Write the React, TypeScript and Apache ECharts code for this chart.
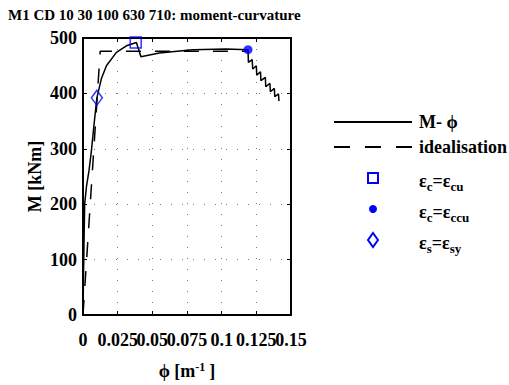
import React, { useEffect, useRef } from "react";
import * as echarts from "echarts";

const titleText = "M1 CD 10 30 100 630 710: moment-curvature";
const xTicks = [0, 0.025, 0.05, 0.075, 0.1, 0.125, 0.15];
const yTicks = [0, 100, 200, 300, 400, 500];

// M-phi curve
const curvePhi = [
  0, 0.0006, 0.0012, 0.0025, 0.0043, 0.006, 0.0078, 0.01, 0.0133, 0.0169, 0.0241, 0.0313,
  0.0385, 0.0418, 0.055, 0.079, 0.103, 0.119,
  0.1193, 0.122, 0.1224, 0.125, 0.1253, 0.128, 0.1283, 0.1315, 0.1318, 0.1348, 0.1351, 0.138,
  0.1383, 0.141, 0.1413,
];
const curveM = [
  0, 110, 200, 232, 260, 295, 340, 392, 427, 450, 474, 486,
  492, 466, 473, 479, 480, 479,
  456, 461, 444, 450, 433, 439, 423, 429, 412, 418, 403, 409,
  394, 399, 386,
];

// bilinear idealisation
const idealPhi = [0, 0.0124, 0.119];
const idealM = [0, 476, 476];

// markers
const ecuPoint = [0.038, 492];
const eccuPoint = [0.119, 479];
const esyPoint = [0.01, 392];

const FONT = "'Liberation Serif', 'Times New Roman', serif";
const BLUE = "#0000ff";

export default function App() {
  const ref = useRef<HTMLDivElement>(null);
  useEffect(() => {
    const chart = echarts.init(ref.current!, null, { renderer: "svg" });
    const curve = curvePhi.map((p, i) => [p, curveM[i]]);
    const ideal = idealPhi.map((p, i) => [p, idealM[i]]);
    const xMax = xTicks[xTicks.length - 1];
    const xStep = xTicks[1] - xTicks[0];
    const yMax = yTicks[yTicks.length - 1];
    const yStep = yTicks[1] - yTicks[0];
    const gridLine = { show: true, lineStyle: { color: "#777", width: 1, type: [1, 10] as any } };
    const axisLine = { show: true, onZero: false, lineStyle: { color: "#000", width: 2 } };
    const tick = { show: true, inside: true, length: 4, lineStyle: { color: "#000", width: 1 } };
    const labelStyle = { fontFamily: FONT, fontSize: 18, fontWeight: "bold" as const, color: "#000" };
    const legendX = 334;
    const textX = 419;
    const legendRich = {
      sub: { fontFamily: FONT, fontSize: 13, fontWeight: "bold" as const, verticalAlign: "bottom" as const, padding: [10, 0, 0, 0], fill: "#000" },
    };
    const isMax = (v: number) => Math.abs(v - xMax) < 1e-9;
    chart.setOption({
      animation: false,
      title: {
        text: titleText,
        left: 8,
        top: 7,
        padding: 0,
        textStyle: { fontFamily: FONT, fontSize: 15, fontWeight: "bold", color: "#000" },
      },
      grid: { left: 83, top: 38, width: 208, height: 285 },
      xAxis: [
        {
          type: "value",
          min: 0,
          max: xMax,
          interval: xStep,
          axisLine,
          axisTick: tick,
          splitLine: gridLine,
          axisLabel: { ...labelStyle, margin: 16, showMinLabel: true, showMaxLabel: false },
          name: "ϕ [m{sup|-1}]",
          nameLocation: "middle",
          nameGap: 46,
          nameTextStyle: {
            fontFamily: FONT,
            fontSize: 18,
            fontWeight: "bold",
            color: "#000",
            rich: { sup: { fontFamily: FONT, fontSize: 12, fontWeight: "bold", verticalAlign: "top", padding: [0, 4, 8, 0] } },
          },
        },
        {
          type: "value",
          position: "top",
          min: 0,
          max: xMax,
          interval: xStep,
          axisLine,
          axisTick: tick,
          splitLine: { show: false },
          axisLabel: { show: false },
        },
        {
          type: "value",
          position: "bottom",
          min: 0,
          max: xMax,
          interval: xStep,
          axisLine: { show: false },
          axisTick: { show: false },
          splitLine: { show: false },
          axisLabel: {
            ...labelStyle,
            margin: 16,
            showMaxLabel: true,
            formatter: (v: number) => (isMax(v) ? String(xMax) : ""),
          },
        },
      ],
      yAxis: [
        {
          type: "value",
          min: 0,
          max: yMax,
          interval: yStep,
          axisLine,
          axisTick: tick,
          splitLine: gridLine,
          axisLabel: { ...labelStyle, margin: 6 },
          name: "M [kNm]",
          nameLocation: "middle",
          nameGap: 39,
          nameTextStyle: { fontFamily: FONT, fontSize: 18, fontWeight: "bold", color: "#000" },
        },
        {
          type: "value",
          position: "right",
          min: 0,
          max: yMax,
          interval: yStep,
          axisLine,
          axisTick: tick,
          splitLine: { show: false },
          axisLabel: { show: false },
        },
      ],
      series: [
        {
          name: "M- ϕ",
          type: "line",
          data: curve,
          showSymbol: false,
          symbol: "none",
          lineStyle: { color: "#000", width: 1.5 },
          z: 3,
        },
        {
          name: "idealisation",
          type: "line",
          data: ideal,
          showSymbol: false,
          symbol: "none",
          lineStyle: { color: "#000", width: 1.5, type: [15, 14] },
          z: 2,
        },
        {
          name: "ecu",
          type: "scatter",
          data: [ecuPoint],
          symbol: "rect",
          symbolSize: 11,
          itemStyle: { color: "none", borderColor: BLUE, borderWidth: 1.5 },
          z: 4,
        },
        {
          name: "eccu",
          type: "scatter",
          data: [eccuPoint],
          symbol: "circle",
          symbolSize: 9,
          itemStyle: { color: BLUE },
          z: 4,
        },
        {
          name: "esy",
          type: "scatter",
          data: [esyPoint],
          symbol: "diamond",
          symbolSize: [11, 15],
          itemStyle: { color: "none", borderColor: BLUE, borderWidth: 1.5 },
          z: 4,
        },
      ],
      graphic: [
        { type: "line", shape: { x1: legendX, y1: 122, x2: 412, y2: 122 }, style: { stroke: "#000", lineWidth: 2 } },
        { type: "text", x: textX, y: 122, style: { text: "M- ϕ", font: `bold 18px ${FONT}`, fill: "#000", textVerticalAlign: "middle" } },
        { type: "line", shape: { x1: legendX, y1: 147, x2: 412, y2: 147 }, style: { stroke: "#000", lineWidth: 2, lineDash: [16, 15] } },
        { type: "text", x: textX, y: 147, style: { text: "idealisation", font: `bold 18px ${FONT}`, fill: "#000", textVerticalAlign: "middle" } },
        { type: "rect", shape: { x: 368, y: 173, width: 10, height: 10 }, style: { fill: "none", stroke: BLUE, lineWidth: 2 } },
        {
          type: "text",
          x: textX,
          y: 181,
          style: { text: "ε{sub|c}=ε{sub|cu}", font: `bold 18px ${FONT}`, fill: "#000", textVerticalAlign: "middle", rich: legendRich },
        },
        { type: "circle", shape: { cx: 373, cy: 209, r: 4 }, style: { fill: BLUE } },
        {
          type: "text",
          x: textX,
          y: 212,
          style: { text: "ε{sub|c}=ε{sub|ccu}", font: `bold 18px ${FONT}`, fill: "#000", textVerticalAlign: "middle", rich: legendRich },
        },
        { type: "polygon", shape: { points: [[373, 233], [378, 240], [373, 247], [368, 240]] }, style: { fill: "none", stroke: BLUE, lineWidth: 2 } },
        {
          type: "text",
          x: textX,
          y: 243,
          style: { text: "ε{sub|s}=ε{sub|sy}", font: `bold 18px ${FONT}`, fill: "#000", textVerticalAlign: "middle", rich: legendRich },
        },
      ],
    });
    return () => chart.dispose();
  }, []);
  return <div ref={ref} style={{ position: "fixed", left: 0, top: 0, width: 509, height: 385, background: "#fff" }} />;
}
